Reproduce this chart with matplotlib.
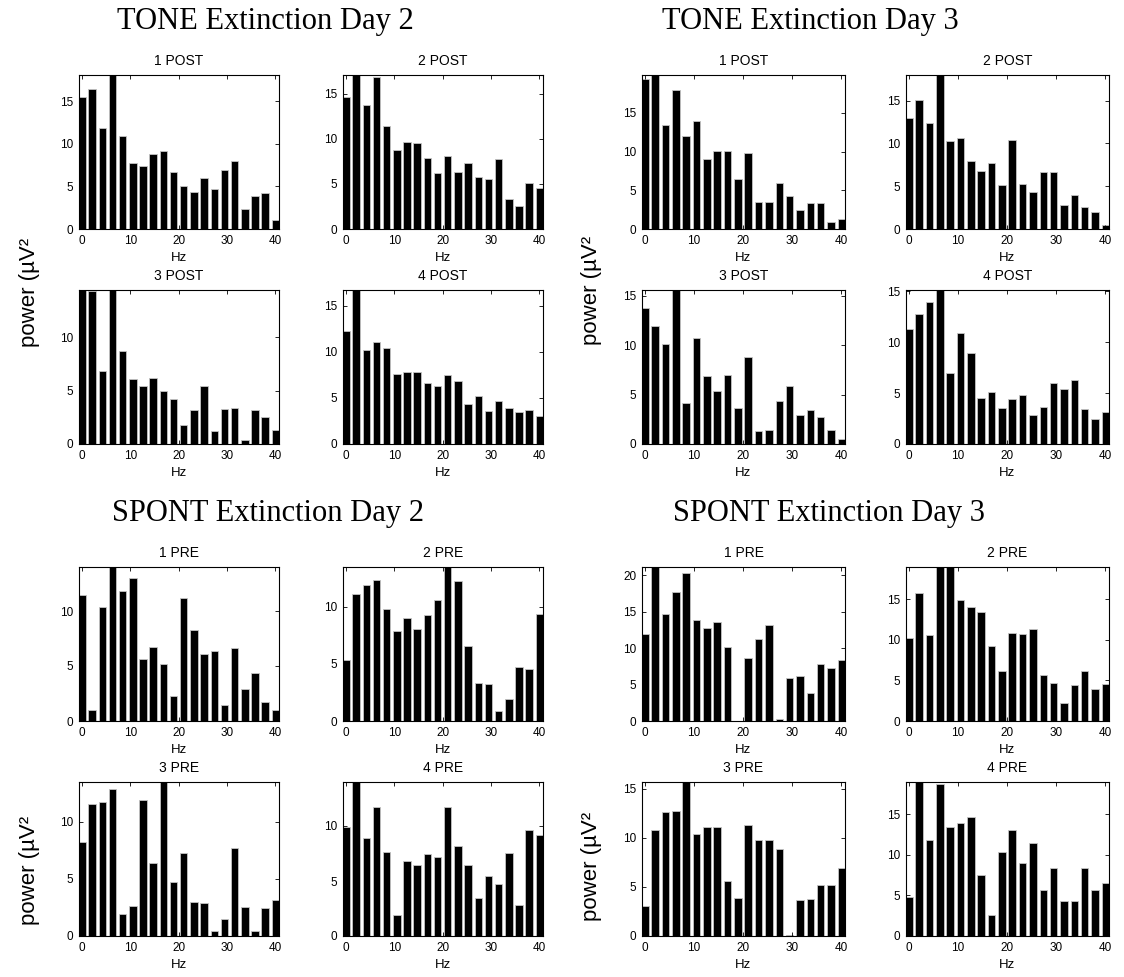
import matplotlib
matplotlib.use("Agg")
import matplotlib.pyplot as plt
from matplotlib.ticker import MultipleLocator
import numpy as np

# ---------------- data ----------------
freqs = np.linspace(0, 40, 20)

tone_d2_1 = [15.5, 16.4, 11.9, 18.1, 10.9, 7.7, 7.4, 8.8, 9.2, 6.7, 5.1, 4.3, 6.0, 4.7, 6.9, 8.0, 2.3, 3.9, 4.2, 1.1]
tone_d2_2 = [14.7, 17.1, 13.8, 16.9, 11.4, 8.8, 9.7, 9.5, 7.9, 6.2, 8.1, 6.3, 7.3, 5.8, 5.6, 7.8, 3.3, 2.6, 5.1, 4.6]
tone_d2_3 = [14.4, 14.3, 6.8, 14.4, 8.7, 6.1, 5.4, 6.2, 5.0, 4.2, 1.8, 3.2, 5.4, 1.25, 3.25, 3.35, 0.4, 3.15, 2.55, 1.35]
tone_d2_4 = [12.3, 16.7, 10.2, 11.1, 10.4, 7.6, 7.8, 7.8, 6.6, 6.3, 7.5, 6.8, 4.3, 5.2, 3.6, 4.7, 3.9, 3.5, 3.7, 3.0]

tone_d3_1 = [19.4, 19.9, 13.4, 18.0, 12.0, 14.0, 9.1, 10.1, 10.1, 6.4, 9.8, 3.5, 3.5, 5.9, 4.3, 2.5, 3.4, 3.3, 0.9, 1.25]
tone_d3_2 = [13.0, 15.1, 12.4, 18.0, 10.3, 10.6, 8.0, 6.8, 7.7, 5.1, 10.4, 5.3, 4.35, 6.7, 6.7, 2.85, 3.95, 2.6, 1.95, 0.45]
tone_d3_3 = [13.8, 12.0, 10.1, 15.6, 4.15, 10.75, 6.85, 5.4, 6.95, 3.6, 8.85, 1.35, 1.4, 4.35, 5.9, 2.95, 3.4, 2.75, 1.4, 0.5]
tone_d3_4 = [11.3, 12.7, 13.9, 15.1, 7.0, 10.9, 8.9, 4.5, 5.1, 3.5, 4.4, 4.85, 2.8, 3.6, 6.0, 5.4, 6.25, 3.4, 2.45, 3.1]

spont_d2_1 = [11.5, 1.0, 10.4, 14.0, 11.8, 13.0, 5.6, 6.75, 5.2, 2.25, 11.2, 8.3, 6.1, 6.35, 1.5, 6.65, 2.9, 4.35, 1.75, 1.0]
spont_d2_2 = [5.35, 11.1, 11.95, 12.4, 9.8, 7.9, 9.0, 8.05, 9.3, 10.6, 13.5, 12.3, 6.6, 3.35, 3.2, 0.85, 1.95, 4.7, 4.6, 9.4]
spont_d2_3 = [8.25, 11.55, 11.75, 12.9, 1.9, 2.6, 11.95, 6.4, 13.5, 4.75, 7.3, 2.95, 2.85, 0.4, 1.45, 7.7, 2.5, 0.4, 2.45, 3.15]
spont_d2_4 = [9.9, 14.0, 8.95, 11.7, 7.65, 1.9, 6.85, 6.45, 7.45, 7.15, 11.7, 8.2, 6.45, 3.45, 5.5, 4.7, 7.55, 2.85, 9.6, 9.2]

spont_d3_1 = [11.9, 21.1, 14.6, 17.7, 20.3, 13.8, 12.8, 13.5, 10.1, 0.05, 8.7, 11.2, 13.1, 0.3, 5.9, 6.2, 3.85, 7.8, 7.25, 8.4]
spont_d3_2 = [10.3, 15.8, 10.6, 19.0, 19.0, 14.95, 14.1, 13.5, 9.3, 6.2, 10.8, 10.7, 11.4, 5.65, 4.7, 2.2, 4.4, 6.2, 3.95, 4.55]
spont_d3_3 = [3.1, 10.8, 12.6, 12.7, 15.7, 10.4, 11.1, 11.1, 5.65, 3.9, 11.35, 9.8, 9.75, 8.9, 0.15, 3.7, 3.75, 5.15, 5.15, 6.9]
spont_d3_4 = [4.85, 19.0, 11.8, 18.7, 13.4, 14.0, 14.7, 7.5, 2.55, 10.35, 13.05, 9.05, 11.45, 5.65, 8.45, 4.3, 4.3, 8.35, 5.65, 6.5]

post_titles = ["1 POST", "2 POST", "3 POST", "4 POST"]
pre_titles = ["1 PRE", "2 PRE", "3 PRE", "4 PRE"]
group_titles = ["TONE Extinction Day 2", "TONE Extinction Day 3",
                "SPONT Extinction Day 2", "SPONT Extinction Day 3"]
x_ticks = [0, 10, 20, 30, 40]
x_label = "Hz"
y_label = "power (\u00b5V\u00b2"

groups = [
    (group_titles[0], post_titles, [tone_d2_1, tone_d2_2, tone_d2_3, tone_d2_4]),
    (group_titles[1], post_titles, [tone_d3_1, tone_d3_2, tone_d3_3, tone_d3_4]),
    (group_titles[2], pre_titles, [spont_d2_1, spont_d2_2, spont_d2_3, spont_d2_4]),
    (group_titles[3], pre_titles, [spont_d3_1, spont_d3_2, spont_d3_3, spont_d3_4]),
]

# ---------------- layout ----------------
W, H = 1124, 977
fig = plt.figure(figsize=(W / 100, H / 100), dpi=100)
fig.patch.set_facecolor("white")

sans = ["Liberation Sans", "DejaVu Sans"]
serif = ["Liberation Serif", "DejaVu Serif"]

col_lefts = {0: [79, 343], 1: [642, 906]}
col_width = {0: 200, 1: 203}
row_tops = {0: [75, 290], 1: [567, 782]}
ax_h = 154

group_title_pos = [(117, 22), (662, 22), (112, 513), (673, 513)]
ylabel_pos = [(30, 292), (592, 290), (30, 870), (592, 866)]


def add_ax(left, top, w, h):
    return fig.add_axes([left / W, 1 - (top + h) / H, w / W, h / H])


for gi, (gtitle, ptitles, series) in enumerate(groups):
    side = gi % 2
    block = gi // 2
    for pi in range(4):
        r, c = divmod(pi, 2)
        ax = add_ax(col_lefts[side][c], row_tops[block][r], col_width[side], ax_h)
        vals = series[pi]
        ax.bar(freqs, vals, width=1.55, color="black", edgecolor="#c4c4c4",
               linewidth=0.6)
        ax.set_xlim(-0.6, 40.75)
        ax.set_ylim(0, max(vals))
        ax.set_xticks(x_ticks)
        ax.yaxis.set_major_locator(MultipleLocator(5))
        ax.tick_params(direction="in", top=True, right=True, length=3, width=0.6,
                       labelsize=8.5, pad=4)
        for lab in ax.get_xticklabels() + ax.get_yticklabels():
            lab.set_family(sans)
        for sp in ax.spines.values():
            sp.set_linewidth(0.8)
            sp.set_color("black")
        ax.set_title(ptitles[pi], fontsize=10, family=sans, pad=7)
        ax.set_xlabel(x_label, fontsize=9.5, family=sans, labelpad=4)
    gx, gy = group_title_pos[gi]
    fig.text(gx / W, 1 - gy / H, gtitle, family=serif, fontsize=22,
             ha="left", va="center")
    lx, ly = ylabel_pos[gi]
    fig.text(lx / W, 1 - ly / H, y_label, family=sans, fontsize=16,
             rotation=90, ha="center", va="center")

fig.savefig("out.png", dpi=100)
